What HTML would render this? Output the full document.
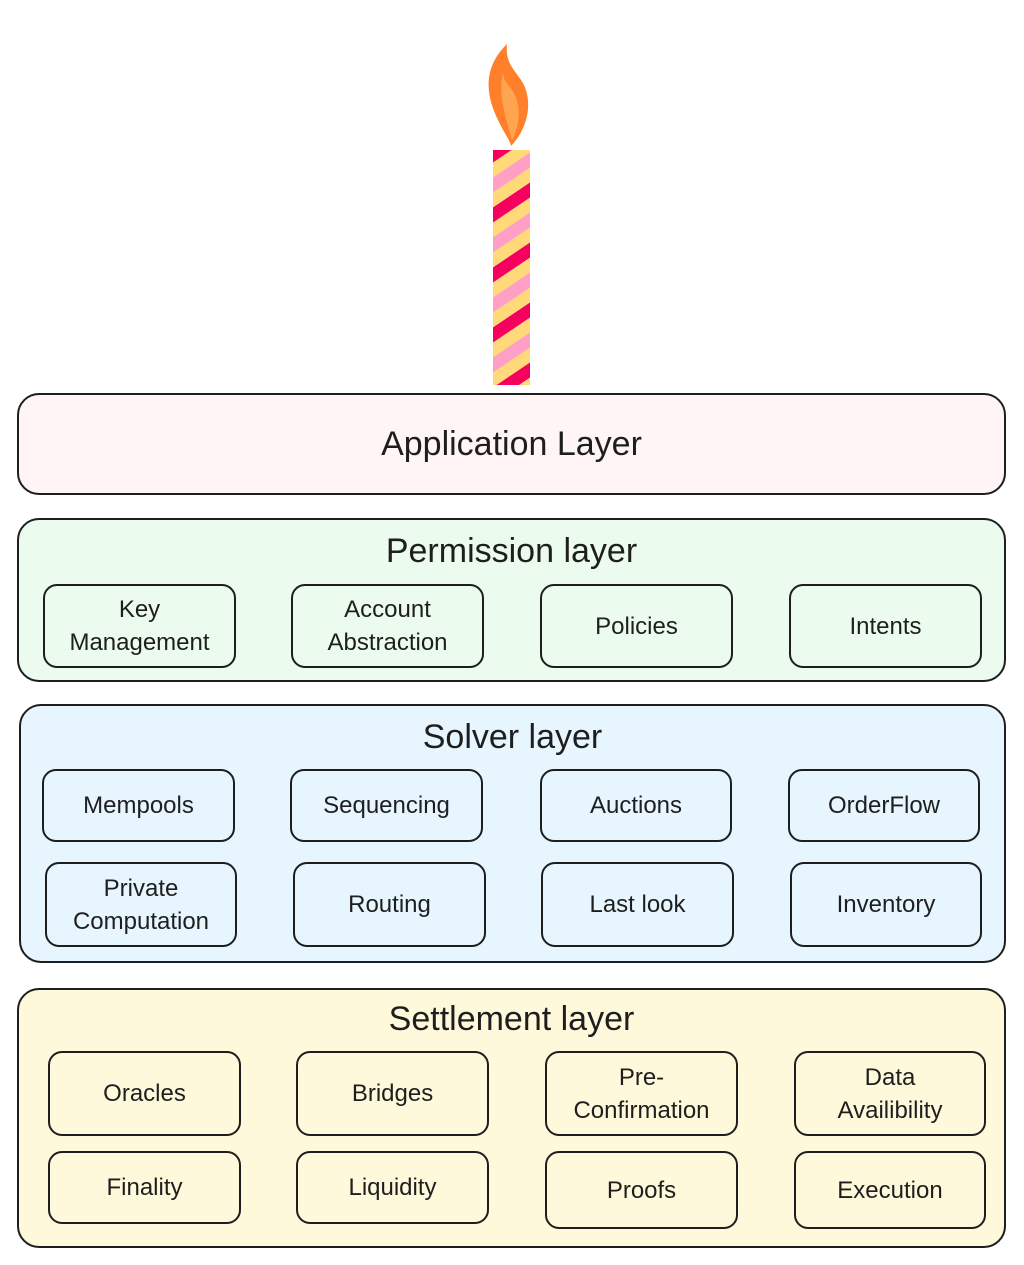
<!DOCTYPE html>
<html><head><meta charset="utf-8"><style>
body{margin:0;width:1024px;height:1265px;background:#fff;position:relative;font-family:"Liberation Sans",sans-serif;color:#1e1e1e;overflow:hidden}
.l{position:absolute;border:2px solid #1e1e1e;border-radius:22px;box-sizing:border-box}
.t{position:absolute;left:0;right:0;text-align:center;font-size:34px}
.b{position:absolute;border:2px solid #1e1e1e;border-radius:14px;box-sizing:border-box;display:flex;align-items:center;justify-content:center;text-align:center;font-size:24px;line-height:33px}
</style></head><body>
<svg style="position:absolute;left:0;top:0" width="1024" height="400">
<defs>
<clipPath id="c"><rect x="493" y="150" width="37" height="235"/></clipPath>
<pattern id="p" patternUnits="userSpaceOnUse" width="37" height="60" patternTransform="skewY(-34)">
<rect x="0" y="0" width="37" height="15" fill="#f5005f"/>
<rect x="0" y="15" width="37" height="15" fill="#ffd97a"/>
<rect x="0" y="30" width="37" height="15" fill="#ff9fc6"/>
<rect x="0" y="45" width="37" height="15" fill="#ffd97a"/>
</pattern>
</defs>
<rect x="493" y="150" width="37" height="235" fill="url(#p)"/>
<path d="M507 44 C480 70 488 100 498 120 C505 135 510 140 511 146 C522 135 535 110 524 85 C516 70 505 65 507 44Z" fill="#ff7f2a"/>
<path d="M503 72 C498 95 505 115 512 140 C520 125 522 105 512 90 C507 83 503 80 503 72Z" fill="#ffa550"/>
</svg>

<div class="l" style="left:17px;top:393px;width:989px;height:102px;background:#fff5f5"><div class="t" style="top:30px">Application Layer</div></div>

<div class="l" style="left:17px;top:518px;width:989px;height:164px;background:#ebfbee"><div class="t" style="top:12px">Permission layer</div></div>
<div class="b" style="left:43px;top:584px;width:193px;height:84px">Key<br>Management</div>
<div class="b" style="left:291px;top:584px;width:193px;height:84px">Account<br>Abstraction</div>
<div class="b" style="left:540px;top:584px;width:193px;height:84px">Policies</div>
<div class="b" style="left:789px;top:584px;width:193px;height:84px">Intents</div>

<div class="l" style="left:19px;top:704px;width:987px;height:259px;background:#e7f5ff"><div class="t" style="top:12px">Solver layer</div></div>
<div class="b" style="left:42px;top:769px;width:193px;height:73px">Mempools</div>
<div class="b" style="left:290px;top:769px;width:193px;height:73px">Sequencing</div>
<div class="b" style="left:540px;top:769px;width:192px;height:73px">Auctions</div>
<div class="b" style="left:788px;top:769px;width:192px;height:73px">OrderFlow</div>
<div class="b" style="left:45px;top:862px;width:192px;height:85px">Private<br>Computation</div>
<div class="b" style="left:293px;top:862px;width:193px;height:85px">Routing</div>
<div class="b" style="left:541px;top:862px;width:193px;height:85px">Last look</div>
<div class="b" style="left:790px;top:862px;width:192px;height:85px">Inventory</div>

<div class="l" style="left:17px;top:988px;width:989px;height:260px;background:#fff9db"><div class="t" style="top:10px">Settlement layer</div></div>
<div class="b" style="left:48px;top:1051px;width:193px;height:85px">Oracles</div>
<div class="b" style="left:296px;top:1051px;width:193px;height:85px">Bridges</div>
<div class="b" style="left:545px;top:1051px;width:193px;height:85px">Pre-<br>Confirmation</div>
<div class="b" style="left:794px;top:1051px;width:192px;height:85px">Data<br>Availibility</div>
<div class="b" style="left:48px;top:1151px;width:193px;height:73px">Finality</div>
<div class="b" style="left:296px;top:1151px;width:193px;height:73px">Liquidity</div>
<div class="b" style="left:545px;top:1151px;width:193px;height:78px">Proofs</div>
<div class="b" style="left:794px;top:1151px;width:192px;height:78px">Execution</div>
</body></html>
